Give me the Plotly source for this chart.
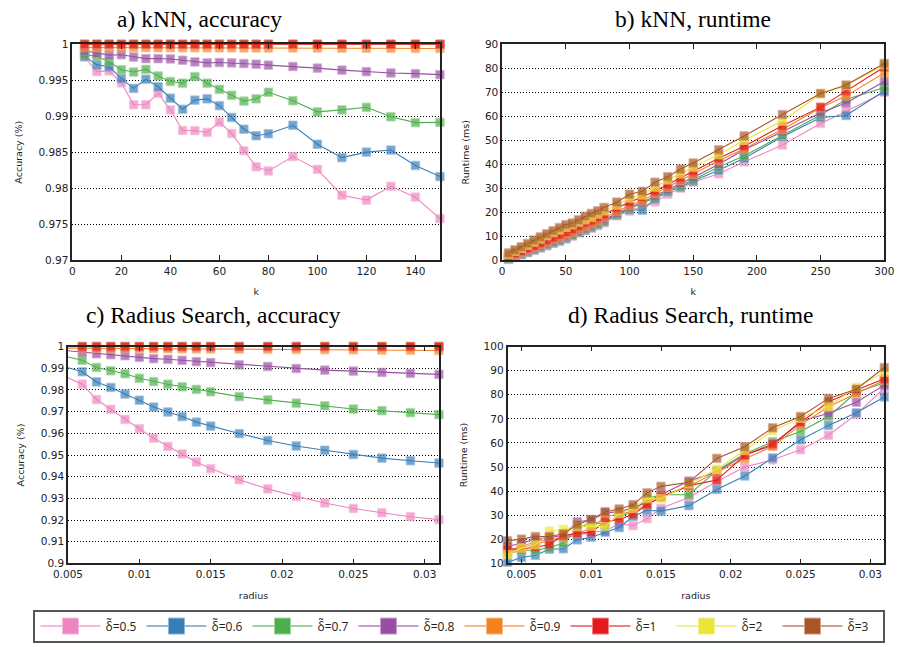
import plotly.graph_objects as go

# ---------------- data ----------------
series_names = ["δ̃=0.5", "δ̃=0.6", "δ̃=0.7", "δ̃=0.8", "δ̃=0.9", "δ̃=1", "δ̃=2", "δ̃=3"]
colors = ["#ee85be", "#377eb8", "#4daf4a", "#984ea3", "#f58220", "#e41a1c", "#ece43a", "#a65628"]

# a) kNN accuracy
k_acc = [5, 10, 15, 20, 25, 30, 35, 40, 45, 50, 55, 60, 65, 70, 75, 80, 90, 100, 110, 120, 130, 140, 150]
acc_knn_05 = [0.9982, 0.9962, 0.9963, 0.99464, 0.9916, 0.9916, 0.99319, 0.99088, 0.98802, 0.9880, 0.98775,
              0.9892, 0.98761, 0.98521, 0.98298, 0.98239, 0.98439, 0.98262, 0.97903, 0.97835, 0.98026,
              0.97876, 0.97577]
acc_knn_06 = [0.99832, 0.99714, 0.99691, 0.99523, 0.99387, 0.99514, 0.9941, 0.99251, 0.99097, 0.99224,
              0.99242, 0.99147, 0.98983, 0.9882, 0.98729, 0.98757, 0.98875, 0.98611, 0.98425, 0.98502,
              0.9853, 0.98316, 0.98162]
acc_knn_07 = [0.99859, 0.99832, 0.99759, 0.99646, 0.99614, 0.99651, 0.9956, 0.99483, 0.9946, 0.99551,
              0.9946, 0.99374, 0.99292, 0.9921, 0.99242, 0.99333, 0.99215, 0.99061, 0.99088, 0.99124,
              0.98993, 0.98911, 0.98915]
acc_knn_08 = [0.99909, 0.99877, 0.9985, 0.99855, 0.99823, 0.998, 0.998, 0.99796, 0.99778, 0.99755, 0.99741,
              0.99746, 0.99741, 0.99732, 0.99723, 0.9971, 0.99691, 0.99669, 0.99641, 0.99619, 0.99601,
              0.99592, 0.99578]
acc_knn_09 = [0.99955, 0.99955, 0.99954, 0.99954, 0.99953, 0.99953, 0.99952, 0.99952, 0.99951, 0.99951,
              0.9995, 0.9995, 0.9995, 0.99949, 0.99949, 0.99948, 0.99948, 0.99947, 0.99945, 0.99944,
              0.99943, 0.99942, 0.99941]
acc_knn_1 = [1.0] * 23
acc_knn_2 = [1.0] * 23
acc_knn_3 = [1.0] * 23

# b) kNN runtime
k_rt = [5, 10, 15, 20, 25, 30, 35, 40, 45, 50, 55, 60, 65, 70, 75, 80, 90, 100, 110, 120, 130, 140, 150,
        170, 190, 220, 250, 270, 300]
rt_knn_05 = [0.3, 1.2, 2.2, 3.1, 4.1, 5.0, 6.0, 7.0, 7.8, 8.8, 10.0, 11.3, 12.3, 13.3, 14.4, 15.6, 18.5,
             20.5, 22.5, 24.3, 27.5, 30.0, 32.5, 36.0, 41.0, 48.0, 57.0, 62.0, 70.0]
rt_knn_06 = [0.5, 1.4, 2.4, 3.3, 4.3, 5.3, 6.3, 7.2, 8.1, 9.1, 10.3, 11.6, 12.6, 13.6, 14.8, 16.0, 18.8,
             21.0, 20.8, 25.5, 28.5, 30.5, 33.0, 37.5, 42.5, 51.5, 59.5, 60.3, 70.5]
rt_knn_07 = [0.8, 1.8, 2.8, 3.8, 4.7, 5.7, 6.7, 7.6, 8.6, 9.4, 10.4, 11.7, 12.8, 13.9, 15.0, 16.3, 19.3,
             21.5, 23.5, 26.0, 28.8, 31.0, 33.5, 38.8, 43.5, 52.0, 60.5, 67.0, 72.0]
rt_knn_08 = [1.0, 2.0, 3.0, 4.0, 5.0, 6.0, 7.0, 8.0, 9.0, 10.0, 11.0, 12.2, 13.4, 14.5, 15.7, 17.0, 19.5,
             22.0, 24.0, 26.8, 29.5, 32.0, 34.5, 40.0, 46.0, 53.5, 61.5, 65.5, 74.5]
rt_knn_09 = [1.3, 2.3, 3.3, 4.4, 5.4, 6.5, 7.6, 8.6, 9.6, 10.6, 11.6, 12.8, 14.0, 15.2, 16.4, 17.8, 20.3,
             22.8, 24.8, 27.8, 30.5, 33.2, 35.8, 41.5, 46.5, 54.5, 63.5, 68.5, 78.0]
rt_knn_1 = [1.8, 2.8, 3.8, 4.9, 6.0, 7.2, 8.4, 9.5, 10.6, 11.7, 12.8, 14.2, 15.5, 16.4, 17.8, 19.0, 21.8,
            24.2, 26.3, 28.8, 31.5, 34.3, 37.0, 42.5, 47.5, 56.0, 63.8, 70.5, 80.5]
rt_knn_2 = [2.5, 3.8, 5.0, 6.3, 7.6, 8.9, 10.2, 11.5, 12.6, 13.7, 14.8, 15.9, 16.9, 18.0, 19.3, 20.6, 23.0,
            25.9, 27.2, 30.5, 33.5, 36.0, 38.8, 44.0, 50.0, 58.0, 69.3, 72.8, 81.5]
rt_knn_3 = [3.0, 4.3, 5.6, 7.0, 8.4, 9.7, 11.0, 12.3, 13.6, 14.8, 15.5, 16.8, 18.3, 19.5, 20.6, 22.0, 24.2,
            27.5, 28.7, 32.5, 34.8, 38.0, 40.5, 46.0, 51.8, 60.7, 69.5, 73.0, 82.0]

# c) Radius search accuracy
radius_acc = [0.005, 0.006, 0.007, 0.008, 0.009, 0.010, 0.011, 0.012, 0.013, 0.014, 0.015, 0.017, 0.019,
              0.021, 0.023, 0.025, 0.027, 0.029, 0.031]
acc_rs_05 = [0.98567, 0.98265, 0.97557, 0.97104, 0.96637, 0.96214, 0.95777, 0.954, 0.95053, 0.94676,
             0.94374, 0.93861, 0.93439, 0.93092, 0.9279, 0.92534, 0.92338, 0.92157, 0.92021]
acc_rs_06 = [0.9902, 0.98839, 0.98371, 0.98115, 0.97813, 0.97526, 0.9721, 0.96983, 0.96772, 0.96516,
             0.96335, 0.95988, 0.95671, 0.95415, 0.95219, 0.95023, 0.94857, 0.94736, 0.9463]
acc_rs_07 = [0.99517, 0.99367, 0.99035, 0.98884, 0.98748, 0.98537, 0.98386, 0.98265, 0.98145, 0.98024,
             0.97919, 0.97692, 0.97541, 0.97391, 0.9727, 0.97119, 0.97044, 0.96953, 0.96863]
acc_rs_08 = [0.99804, 0.99744, 0.99668, 0.99623, 0.99578, 0.99502, 0.99442, 0.99412, 0.99367, 0.99306,
             0.99261, 0.99155, 0.9908, 0.98989, 0.98914, 0.98869, 0.98808, 0.98763, 0.98718]
acc_rs_09 = [0.9993, 0.99925, 0.9992, 0.99915, 0.9991, 0.99905, 0.999, 0.99897, 0.99894, 0.9989, 0.99887,
             0.9988, 0.99872, 0.99865, 0.99857, 0.9985, 0.99838, 0.99828, 0.9982]
acc_rs_1 = [1.0] * 19
acc_rs_2 = [1.0] * 19
acc_rs_3 = [1.0] * 19

# d) Radius search runtime
radius_rt = [0.004, 0.005, 0.006, 0.007, 0.008, 0.009, 0.010, 0.011, 0.012, 0.013, 0.014, 0.015, 0.017,
             0.019, 0.021, 0.023, 0.025, 0.027, 0.029, 0.031]
rt_rs_05 = [15.5, 17.0, 19.0, 20.0, 21.0, 21.5, 23.0, 23.5, 26.5, 25.7, 28.6, 32.9, 37.4, 44.0, 50.0, 53.0,
            57.2, 63.2, 71.9, 82.8]
rt_rs_06 = [10.5, 12.5, 13.4, 15.9, 16.1, 19.8, 20.9, 23.0, 24.9, 29.5, 32.1, 31.7, 34.0, 40.7, 46.3, 53.8,
            61.3, 67.3, 72.5, 79.1]
rt_rs_07 = [14.0, 15.5, 15.5, 16.5, 18.5, 24.0, 27.5, 26.0, 29.5, 31.5, 37.0, 38.5, 38.5, 48.5, 55.5, 60.5,
            64.8, 71.0, 81.0, 85.0]
rt_rs_08 = [17.0, 18.5, 20.0, 21.0, 21.5, 27.3, 28.0, 31.0, 31.5, 33.0, 35.5, 38.5, 44.2, 48.0, 55.0, 59.0,
            69.0, 72.3, 76.9, 84.0]
rt_rs_09 = [14.5, 16.5, 18.0, 19.5, 21.0, 22.5, 24.5, 29.5, 30.5, 31.5, 34.5, 37.5, 42.0, 48.0, 53.5, 58.5,
            67.5, 75.0, 80.5, 86.0]
rt_rs_1 = [16.0, 16.0, 16.7, 17.9, 21.6, 22.5, 23.0, 27.3, 28.3, 30.3, 34.4, 37.7, 42.3, 44.6, 54.9, 59.6,
           68.5, 77.1, 82.0, 86.6]
rt_rs_2 = [13.7, 16.4, 17.8, 23.4, 24.2, 25.3, 25.5, 25.3, 30.7, 32.8, 36.9, 36.9, 43.0, 49.1, 56.9, 65.1,
           70.3, 75.3, 83.1, 89.4]
rt_rs_3 = [19.4, 20.1, 21.2, 21.2, 22.3, 26.1, 28.3, 31.5, 32.6, 34.4, 39.3, 42.0, 43.7, 53.6, 58.4, 66.3,
           71.0, 78.5, 82.3, 91.3]

# tick labels
ticks_a_x = [0, 20, 40, 60, 80, 100, 120, 140]
ticks_a_y = [0.97, 0.975, 0.98, 0.985, 0.99, 0.995, 1.0]
labels_a_y = ["0.97", "0.975", "0.98", "0.985", "0.99", "0.995", "1"]
ticks_b_x = [0, 50, 100, 150, 200, 250, 300]
ticks_b_y = [0, 10, 20, 30, 40, 50, 60, 70, 80, 90]
ticks_c_x = [0.005, 0.01, 0.015, 0.02, 0.025, 0.03]
labels_c_x = ["0.005", "0.01", "0.015", "0.02", "0.025", "0.03"]
ticks_c_y = [0.9, 0.91, 0.92, 0.93, 0.94, 0.95, 0.96, 0.97, 0.98, 0.99, 1.0]
labels_c_y = ["0.9", "0.91", "0.92", "0.93", "0.94", "0.95", "0.96", "0.97", "0.98", "0.99", "1"]
ticks_d_y = [10, 20, 30, 40, 50, 60, 70, 80, 90, 100]

titles = ["a) kNN, accuracy", "b) kNN, runtime", "c) Radius Search, accuracy", "d) Radius Search, runtime"]

acc_knn = [acc_knn_05, acc_knn_06, acc_knn_07, acc_knn_08, acc_knn_09, acc_knn_1, acc_knn_2, acc_knn_3]
rt_knn = [rt_knn_05, rt_knn_06, rt_knn_07, rt_knn_08, rt_knn_09, rt_knn_1, rt_knn_2, rt_knn_3]
acc_rs = [acc_rs_05, acc_rs_06, acc_rs_07, acc_rs_08, acc_rs_09, acc_rs_1, acc_rs_2, acc_rs_3]
rt_rs = [rt_rs_05, rt_rs_06, rt_rs_07, rt_rs_08, rt_rs_09, rt_rs_1, rt_rs_2, rt_rs_3]


# ---------------- styling helpers ----------------
def lighten(hexcol, f=0.5):
    h = hexcol.lstrip("#")
    r, g, b = int(h[0:2], 16), int(h[2:4], 16), int(h[4:6], 16)
    r = int(r + (255 - r) * f)
    g = int(g + (255 - g) * f)
    b = int(b + (255 - b) * f)
    return "#%02x%02x%02x" % (r, g, b)


MS = 8.5
fig = go.Figure()


def add_series(x, ys, xa, ya, order, first_hidden=False):
    for i in order:
        n = len(x)
        sizes = [MS] * n
        if first_hidden:
            sizes[0] = 0
        fig.add_trace(go.Scatter(
            x=x, y=ys[i], xaxis=xa, yaxis=ya, mode="lines+markers",
            name=series_names[i], showlegend=False, cliponaxis=False,
            line=dict(color=colors[i], width=1.1),
            marker=dict(symbol="square", size=sizes, color=colors[i],
                        line=dict(color=lighten(colors[i], 0.35), width=0.8)),
            hoverinfo="skip",
        ))


acc_order = [6, 7, 0, 1, 2, 3, 4, 5]
nat_order = list(range(8))
add_series(k_acc, acc_knn, "x", "y", acc_order)
add_series(k_rt, rt_knn, "x2", "y2", nat_order)
add_series(radius_acc, acc_rs, "x3", "y3", acc_order, first_hidden=True)
add_series(radius_rt, rt_rs, "x4", "y4", nat_order)

# legend-only entries
for i in range(8):
    fig.add_trace(go.Scatter(
        x=[None], y=[None], xaxis="x", yaxis="y", mode="lines+markers",
        name=series_names[i], showlegend=True,
        line=dict(color=lighten(colors[i], 0.45), width=2),
        marker=dict(symbol="square", size=16, color=colors[i],
                    line=dict(color=lighten(colors[i], 0.45), width=1)),
    ))

W, H = 905, 647
tickfont = dict(family="DejaVu Sans", size=10.5, color="#222")
titlefont = dict(family="DejaVu Sans", size=9.5, color="#222")


def xax(domain, rng, tickvals, ticktext, title, anchor):
    return dict(domain=domain, range=rng, tickvals=tickvals, ticktext=ticktext,
                showgrid=False, zeroline=False, showline=True, linecolor="#222", linewidth=1.6,
                mirror="ticks", ticks="inside", ticklen=5, tickcolor="#222", tickwidth=1,
                tickfont=tickfont, title=dict(text=title, font=titlefont, standoff=13),
                anchor=anchor)


def yax(domain, rng, tickvals, ticktext, title, anchor):
    return dict(domain=domain, range=rng, tickvals=tickvals, ticktext=ticktext,
                showgrid=True, gridcolor="#000", gridwidth=1, griddash="1px,2px",
                zeroline=False, showline=True, linecolor="#222", linewidth=1.6,
                mirror="ticks", ticks="", tickfont=tickfont,
                title=dict(text=title, font=titlefont, standoff=14), anchor=anchor)


def px(xl, xr):
    return [xl / W, xr / W]


def py(yt, yb):
    return [1 - yb / H, 1 - yt / H]


fig.update_layout(
    width=W, height=H, margin=dict(l=0, r=0, t=0, b=0),
    paper_bgcolor="white", plot_bgcolor="white",
    xaxis=xax(px(59, 437), [0, 150], ticks_a_x, [str(v) for v in ticks_a_x], "k", "y"),
    yaxis=yax(py(39, 259), [0.97, 1.0], ticks_a_y, labels_a_y, "Accuracy (%)", "x"),
    xaxis2=xax(px(501, 894), [0, 300], ticks_b_x, [str(v) for v in ticks_b_x], "k", "y2"),
    yaxis2=yax(py(39, 259), [0, 90], ticks_b_y, [str(v) for v in ticks_b_y], "Runtime (ms)", "x2"),
    xaxis3=xax(px(54.5, 436), [0.005, 0.031], ticks_c_x, labels_c_x, "radius", "y3"),
    yaxis3=yax(py(347, 568), [0.9, 1.0], ticks_c_y, labels_c_y, "Accuracy (%)", "x3"),
    xaxis4=xax(px(506.5, 894), [0.004, 0.031], ticks_c_x, labels_c_x, "radius", "y4"),
    yaxis4=yax(py(347, 568), [10, 100], ticks_d_y, [str(v) for v in ticks_d_y], "Runtime (ms)", "x4"),
    legend=dict(orientation="h", x=19 / W, xanchor="left", y=1 - 615 / H, yanchor="top",
                bordercolor="#555", borderwidth=2, bgcolor="white",
                font=dict(family="Open Sans", size=12, color="#222"),
                itemwidth=60, entrywidthmode="pixels", entrywidth=31,
                itemclick=False, itemdoubleclick=False),
    showlegend=True,
)

title_pos = [(190, 13), (697, 13), (204, 315), (695, 315)]
for t, (cx, cy) in zip(titles, title_pos):
    fig.add_annotation(text=t, x=cx / W, y=1 - cy / H, xref="paper", yref="paper",
                       xanchor="center", yanchor="middle", showarrow=False,
                       font=dict(family="Liberation Serif", size=23.5, color="#000"))

fig.write_html("out.html")
